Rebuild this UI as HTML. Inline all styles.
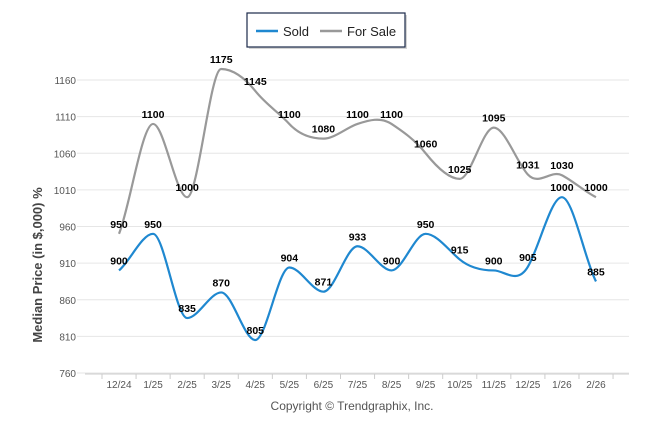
<!DOCTYPE html>
<html><head><meta charset="utf-8"><style>
body{margin:0;background:#fff;}
svg{display:block;font-family:"Liberation Sans",Arial,sans-serif;}
</style></head><body>
<svg id="chart" width="646" height="434">
<g>
<rect x="249" y="15" width="158" height="34" fill="#aaa" opacity="0.5"/>
<rect x="247" y="13" width="158" height="34" fill="#fff" stroke="#1c2a4a" stroke-width="1.2"/>
<g><line x1="256" y1="31" x2="278" y2="31" stroke="#1f88d0" stroke-width="2.5"/><text x="283" y="36" font-size="13" fill="#222">Sold</text></g>
<g><line x1="320" y1="31" x2="342" y2="31" stroke="#999" stroke-width="2.5"/><text x="347" y="36" font-size="13" fill="#222">For Sale</text></g>
</g>
<text transform="translate(42,265) rotate(-90)" text-anchor="middle" font-size="13" font-weight="bold" fill="#444">Median Price (in $,000) %</text>
<text x="352" y="514" font-size="12" fill="#555" text-anchor="middle" transform="translate(0,-104)">Copyright © Trendgraphix, Inc.</text>
<g id="grid"></g><g id="axes"></g><g id="series"></g><g id="labels"></g>
</svg>
<script>
const categories=["12/24","1/25","2/25","3/25","4/25","5/25","6/25","7/25","8/25","9/25","10/25","11/25","12/25","1/26","2/26"];
const soldValues=[900,950,835,870,805,904,871,933,900,950,915,900,905,1000,885];
const forSaleValues=[950,1100,1000,1175,1145,1100,1080,1100,1100,1060,1025,1095,1031,1030,1000];
const yTicks=[760,810,860,910,960,1010,1060,1110,1160];
const NS="http://www.w3.org/2000/svg";
function y(v){return 373-(v-760)*(373-80)/400;}
function x(i){return 119+i*34.07;}
function mk(tag,attrs,parent,txt){const e=document.createElementNS(NS,tag);for(const k in attrs)e.setAttribute(k,attrs[k]);if(txt!==undefined)e.textContent=txt;document.getElementById(parent).appendChild(e);return e;}
yTicks.forEach(t=>{
  const l=mk('line',{x1:77,x2:629,y1:y(t),y2:y(t),stroke:'#e6e6e6','stroke-width':1},'grid');
  
  
  const tx=mk('text',{x:76,y:y(t)+4,'font-size':10,fill:'#555','text-anchor':'end'},'axes',t);
  
  
});
mk('line',{x1:85,x2:629,y1:374,y2:374,stroke:'#ccc'},'axes');
for(let i=0;i<=categories.length;i++){const bx=x(i)-17;mk('line',{x1:bx,x2:bx,y1:374,y2:379,stroke:'#ccc'},'axes');}
categories.forEach((c,i)=>{
  const t=mk('text',{x:x(i),y:388,'font-size':10,fill:'#555','text-anchor':'middle'},'axes',c);
  
  
});
function path(vals){
  const p=vals.map((v,i)=>[x(i),y(v)]);let d='M'+p[0][0]+','+p[0][1];const s=0.3;
  for(let i=0;i<p.length-1;i++){const p0=p[i-1]||p[i],p1=p[i],p2=p[i+1],p3=p[i+2]||p2;
    d+=' C'+(p1[0]+(p2[0]-p0[0])*s/1.2)+','+(p1[1]+(p2[1]-p0[1])*s/1.2*0+ (p2[1]-p0[1])*0)+' '+(p2[0]-(p3[0]-p1[0])*s/1.2)+','+(p2[1])+' '+p2[0]+','+p2[1];}
  return d;}
function smooth(vals){
  const p=vals.map((v,i)=>[x(i),y(v)]);let d='M'+p[0][0]+','+p[0][1];
  for(let i=0;i<p.length-1;i++){const p0=p[i-1]||p[i],p1=p[i],p2=p[i+1],p3=p[i+2]||p2;const t=0.25;
    let c1y=p1[1]+(p2[1]-p0[1])*t, c2y=p2[1]-(p3[1]-p1[1])*t;
    if(p0&&((p1[1]<p0[1]&&p1[1]<p2[1])||(p1[1]>p0[1]&&p1[1]>p2[1])))c1y=p1[1];
    if((p2[1]<p1[1]&&p2[1]<p3[1])||(p2[1]>p1[1]&&p2[1]>p3[1]))c2y=p2[1];
    d+=' C'+(p1[0]+11)+','+c1y+' '+(p2[0]-11)+','+c2y+' '+p2[0]+','+p2[1];}
  return d;}
const fs=mk('path',{d:smooth(forSaleValues),fill:'none',stroke:'#999','stroke-width':2.2},'series');


const sd=mk('path',{d:smooth(soldValues),fill:'none',stroke:'#1f88d0','stroke-width':2.2},'series');


function labels(vals,name){vals.forEach((v,i)=>{
  const t=mk('text',{x:x(i),y:y(v)-6,'font-size':10.5,'font-weight':'bold',fill:'#000','text-anchor':'middle'},'labels',v);
  
  });}
labels(forSaleValues,'for-sale');labels(soldValues,'sold');
</script>
</body></html>
